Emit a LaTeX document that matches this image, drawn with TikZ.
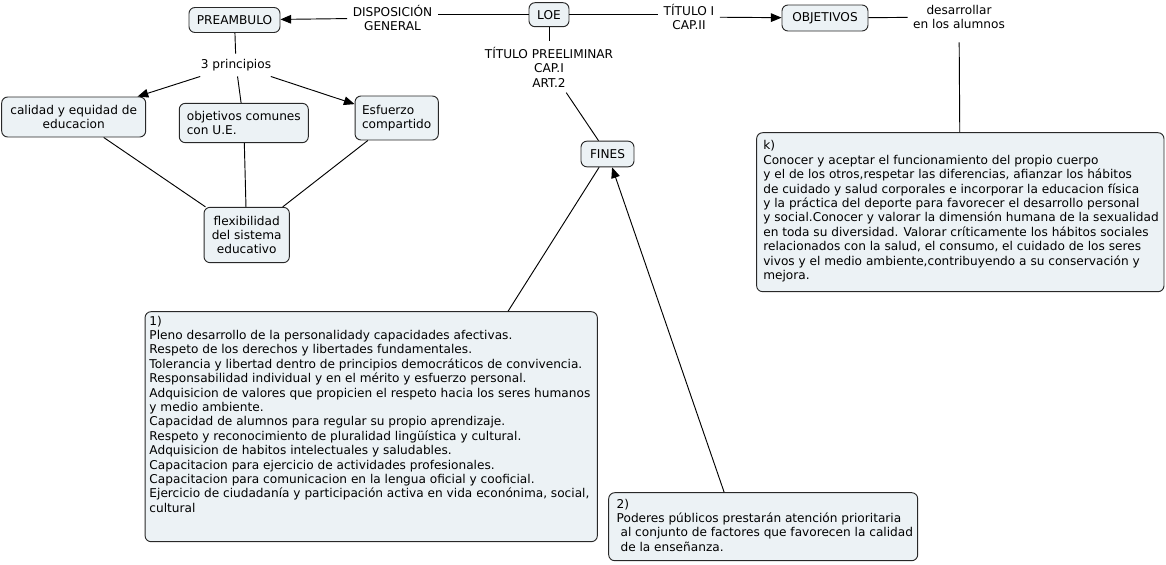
\documentclass[tikz,border=0pt]{standalone}
\usepackage{fontspec}
\setmainfont{DejaVu Sans}
\usetikzlibrary{arrows.meta,calc}

\definecolor{boxfill}{RGB}{236,242,245}
\definecolor{boxline}{RGB}{40,40,40}

\tikzset{
  concept/.style={draw=boxline, fill=boxfill, rounded corners=4.5pt, line width=0.7pt, inner sep=2pt, align=center},
  note/.style={draw=boxline, fill=boxfill, rounded corners=4.5pt, line width=0.7pt},
  linklabel/.style={inner sep=4pt, align=center},
  link/.style={line width=0.7pt},
  linkarrow/.style={line width=0.7pt, -{Triangle[length=8pt,width=6.5pt]}}
}

\begin{document}
\begin{tikzpicture}[x=0.75pt,y=0.75pt,yscale=-1,xscale=1,font=\fontsize{9.1}{10.8}\selectfont]
\useasboundingbox (0,0) rectangle (1166,564);

% Concept Node
\node [concept, minimum width=30pt, minimum height=18pt] (loe) at (549,14.7) {LOE};
% Concept Node
\node [concept, minimum width=68.25pt, minimum height=18.75pt] (preambulo) at (234.5,20) {PREAMBULO};
% Concept Node
\node [concept, minimum width=64.5pt, minimum height=19.5pt] (objetivos) at (825,18) {OBJETIVOS};
% Concept Node
\node [concept, minimum width=39.75pt, minimum height=19.25pt] (fines) at (607.5,154) {FINES};
% Concept Node
\node [concept, minimum width=108pt, minimum height=30pt] (calidad) at (73.7,117) {calidad y equidad de\\educacion};
% Concept Node
\node [concept, align=left, minimum width=96.75pt, minimum height=29.5pt] (comunes) at (243.8,123) {objetivos comunes\\con U.E.};
% Concept Node
\node [concept, align=left, minimum width=62.5pt, minimum height=33pt] (esfuerzo) at (396.7,118) {Esfuerzo\\compartido};
% Concept Node
\node [concept, minimum width=64pt, minimum height=41.5pt] (flexible) at (246.7,235) {flexibilidad\\del sistema\\educativo};

% Text Node
\node [linklabel] (disposicion) at (392.5,18) {DISPOSICIÓN\\GENERAL};
% Text Node
\node [linklabel] (tituloI) at (689,17) {TÍTULO I\\CAP.II};
% Text Node
\node [linklabel] (desarrollar) at (959,17) {desarrollar\\en los alumnos};
% Text Node
\node [linklabel] (preliminar) at (549,67) {TÍTULO PREELIMINAR\\CAP.I\\ART.2};
% Text Node
\node [linklabel] (principios) at (236,65) {3 principios};

% Note Node
\node [note, inner xsep=5pt, inner ysep=5.3pt] (kbox) at (960.3,212.2) {\parbox[t][108.65pt][t]{295.5pt}{\begin{tabular}[t]{@{}l@{}}
k)\\
Conocer y aceptar el funcionamiento del propio cuerpo\\
y el de los otros,respetar las diferencias, afianzar los hábitos\\
de cuidado y salud corporales e incorporar la educacion física\\
y la práctica del deporte para favorecer el desarrollo personal\\
y social.Conocer y valorar la dimensión humana de la sexualidad\\
en toda su diversidad. Valorar críticamente los hábitos sociales\\
relacionados con la salud, el consumo, el cuidado de los seres\\
vivos y el medio ambiente,contribuyendo a su conservación y\\
mejora.
\end{tabular}}};
% Note Node
\node [note, inner xsep=3.3pt, inner ysep=2.5pt] (finuno) at (371.2,426.7) {\parbox[t][167.5pt][t]{332.6pt}{\begin{tabular}[t]{@{}l@{}}
1)\\
Pleno desarrollo de la personalidady capacidades afectivas.\\
Respeto de los derechos y libertades fundamentales.\\
Tolerancia y libertad dentro de principios democráticos de convivencia.\\
Responsabilidad individual y en el mérito y esfuerzo personal.\\
Adquisicion de valores que propicien el respeto hacia los seres humanos\\
y medio ambiente.\\
Capacidad de alumnos para regular su propio aprendizaje.\\
Respeto y reconocimiento de pluralidad lingüística y cultural.\\
Adquisicion de habitos intelectuales y saludables.\\
Capacitacion para ejercicio de actividades profesionales.\\
Capacitacion para comunicacion en la lengua oficial y cooficial.\\
Ejercicio de ciudadanía y participación activa en vida econónima, social,\\
cultural
\end{tabular}}};
% Note Node
\node [note, inner xsep=6pt, inner ysep=4pt] (findos) at (763.2,526.7) {\parbox[t][43pt][t]{219.75pt}{\begin{tabular}[t]{@{}l@{}}
2)\\
Poderes públicos prestarán atención prioritaria\\
\ al conjunto de factores que favorecen la calidad\\
\ de la enseñanza.
\end{tabular}}};

%Straight Lines
\draw [link] (loe.west) -- (loe.west -| disposicion.east) ;
%Straight Lines
\draw [linkarrow] (disposicion) -- (preambulo) ;
%Straight Lines
\draw [link] (loe.east) -- (loe.east -| tituloI.west) ;
%Straight Lines
\draw [linkarrow] (tituloI) -- (objetivos) ;
%Straight Lines
\draw [link] (objetivos) -- (desarrollar) ;
%Straight Lines
\draw [link, shorten <=6pt] (desarrollar) -- (kbox) ;
%Straight Lines
\draw [link] (loe) -- (preliminar) ;
%Straight Lines
\draw [link] (preliminar) -- (fines) ;
%Straight Lines
\draw [link] (fines) -- ($(finuno.north west)!0.802!(finuno.north east)$) ;
%Straight Lines
\draw [linkarrow] ($(findos.north west)!0.374!(findos.north east)$) -- (fines) ;
%Straight Lines
\draw [link] (preambulo) -- (principios) ;
%Straight Lines
\draw [linkarrow] (principios) -- (calidad) ;
%Straight Lines
\draw [link] (principios) -- (comunes) ;
%Straight Lines
\draw [linkarrow] (principios) -- (esfuerzo) ;
%Straight Lines
\draw [link] (calidad) -- (flexible) ;
%Straight Lines
\draw [link] (comunes) -- (flexible) ;
%Straight Lines
\draw [link] (esfuerzo) -- (flexible) ;

\end{tikzpicture}
\end{document}
